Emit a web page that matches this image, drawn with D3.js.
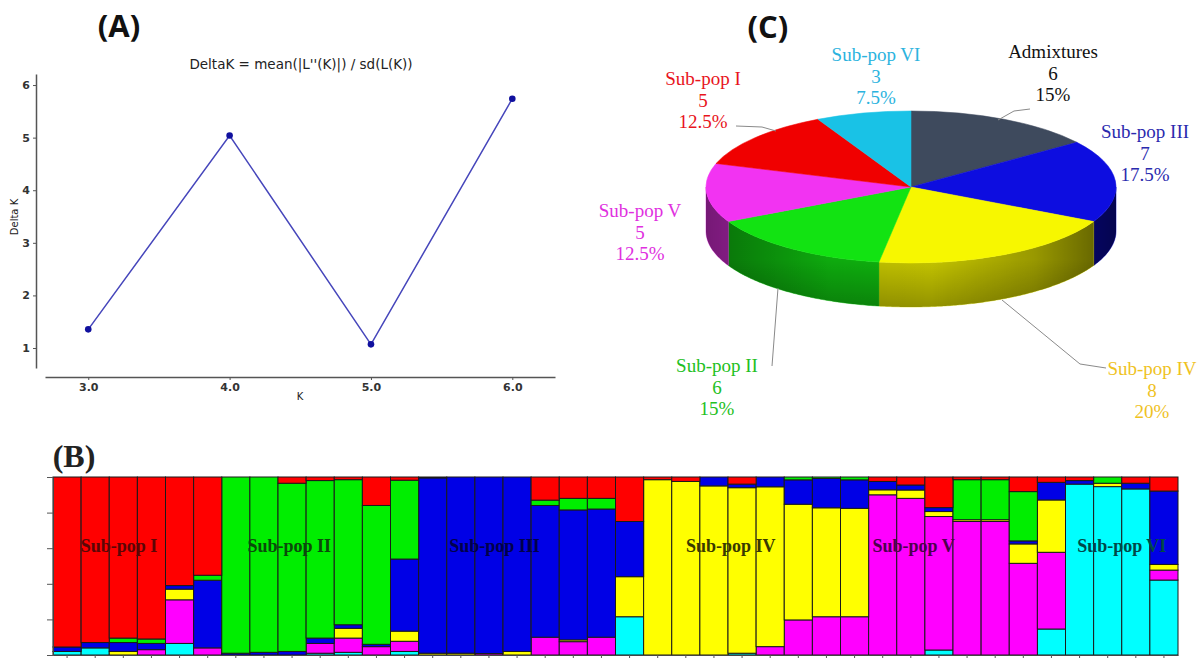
<!DOCTYPE html>
<html>
<head>
<meta charset="utf-8">
<script src="https://cdn.jsdelivr.net/npm/d3@7"></script>
<style>
  body { margin: 0; background: #fff; }
  svg { display: block; }
</style>
</head>
<body>
<svg id="chart" width="1199" height="658"></svg>
<script>
// ---- (A) Evanno delta K ----
const kValues = [3, 4, 5, 6];
const deltaK = [1.355, 5.04, 1.07, 5.74];

// ---- (C) pie: clockwise from 12 o'clock ----
const pieLabels = ["Admixtures", "Sub-pop III", "Sub-pop IV", "Sub-pop II", "Sub-pop V", "Sub-pop I", "Sub-pop VI"];
const pieCounts = [6, 7, 8, 6, 5, 5, 3];
const pieColors = ["#3e4a5d", "#0d0de0", "#f7f700", "#12e312", "#f233f2", "#f00000", "#19c2e6"];
const pieTextColors = ["#111111", "#2a2aae", "#efc21e", "#22c022", "#e030e0", "#e8141c", "#2bb3de"];

// ---- (B) STRUCTURE membership, 40 individuals (bottom -> top order) ----
const clusterKeys = ["cyan", "magenta", "yellow", "blue", "green", "red"];
const clusterColors = ["#00ffff", "#ff00ff", "#ffff00", "#0000e6", "#00ee00", "#ff0000"];
const cyan    = [.02,.04,0,0,.065,0,0,0,0,.01,.015,0,.02,0,0,0,0,0,0,0,.215,0,0,0,.01,0,0,0,0,0,0,.028,0,0,0,.146,.96,.946,.933,.421];
const magenta = [0,0,0,.03,.245,.04,0,0,0,.055,.08,.047,.057,0,0,.008,0,.1,.075,.1,0,0,0,0,0,.047,.197,.215,.215,.9,.88,.75,.75,.75,.515,.431,0,0,0,.056];
const yellow  = [0,0,.02,0,.06,0,0,0,0,0,.055,0,.057,.01,.01,0,.02,0,.01,0,.225,.985,.975,.95,.93,.898,.65,.612,.609,.028,.047,.028,.01,.01,.109,.294,0,.019,0,.032];
const blue    = [.025,.03,.05,.035,.02,.38,.01,.015,.02,.03,.02,.013,.405,.985,.99,.992,.98,.74,.73,.72,.31,0,0,.05,.02,.055,.137,.165,.16,.047,.028,.022,0,0,.017,.099,.02,0,.032,.412];
const green   = [0,0,.025,.025,0,.028,.99,.985,.945,.885,.815,.78,.443,0,0,0,0,.03,.065,.06,0,0,0,0,0,0,.016,.008,.016,0,0,0,.225,.225,.277,0,0,.035,0,0];
const red     = [.955,.93,.905,.91,.61,.552,0,0,.035,.02,.015,.16,.018,.005,0,0,0,.13,.12,.12,.25,.015,.025,0,.04,0,0,0,0,.025,.045,.172,.015,.015,.082,.03,.02,0,.035,.079];
const groupLabels = ["Sub-pop I", "Sub-pop II", "Sub-pop III", "Sub-pop IV", "Sub-pop V", "Sub-pop VI"];
const groupCenters = [2.35, 8.4, 15.7, 24.1, 30.6, 38.0];
const groupTextColors = ["#5a0606", "#0b4a0b", "#00004a", "#3a3a00", "#4e004e", "#004848"];

const svg = d3.select("#chart");

// ================= Panel A =================
svg.append("text").attr("x", 119).attr("y", 37).attr("text-anchor", "middle")
  .style("font-family", "'Open Sans', 'DejaVu Sans', sans-serif").style("font-weight", "bold")
  .style("font-size", "31px").attr("fill", "#111").text("(A)");

const xA = d3.scaleLinear().domain([2.694, 6.302]).range([45, 555]);
const yA = d3.scaleLinear().domain([0.62, 6.21]).range([368, 74]);

svg.append("text").attr("x", 301).attr("y", 69).attr("text-anchor", "middle")
  .style("font-family", "'DejaVu Sans', sans-serif").style("font-size", "13.5px")
  .attr("fill", "#222").text("DeltaK = mean(|L''(K)|) / sd(L(K))");

const axA = svg.append("g").attr("transform", "translate(0,377)")
  .call(d3.axisBottom(xA).tickValues(kValues).tickFormat(d3.format(".1f")).tickSize(3).tickSizeOuter(0).tickPadding(3));
const ayA = svg.append("g").attr("transform", "translate(36,0)")
  .call(d3.axisLeft(yA).tickValues([1, 2, 3, 4, 5, 6]).tickFormat(d3.format("d")).tickSize(3).tickSizeOuter(0).tickPadding(3));
[axA, ayA].forEach(g => {
  g.select(".domain").attr("stroke", "#555").attr("stroke-width", 1.5);
  g.selectAll(".tick line").attr("stroke", "#555");
  g.selectAll(".tick text").style("font-family", "'DejaVu Sans', sans-serif")
    .style("font-size", "11px").style("font-weight", "bold").attr("fill", "#333");
});

svg.append("text").attr("x", 300).attr("y", 400).attr("text-anchor", "middle")
  .style("font-family", "'DejaVu Sans', sans-serif").style("font-size", "10px").attr("fill", "#222").text("K");
svg.append("text").attr("transform", "translate(18,217) rotate(-90)").attr("text-anchor", "middle")
  .style("font-family", "'DejaVu Sans', sans-serif").style("font-size", "10px").attr("fill", "#222").text("Delta K");

const lineA = d3.line().x((d, i) => xA(kValues[i])).y(d => yA(d));
svg.append("path").datum(deltaK).attr("d", lineA)
  .attr("fill", "none").attr("stroke", "#4646bb").attr("stroke-width", 1.5);
svg.selectAll(".dotA").data(deltaK).join("circle").attr("class", "dotA")
  .attr("cx", (d, i) => xA(kValues[i])).attr("cy", d => yA(d)).attr("r", 3.3).attr("fill", "#10109e");

// ================= Panel C =================
svg.append("text").attr("x", 768).attr("y", 38).attr("text-anchor", "middle")
  .style("font-family", "'Open Sans', 'DejaVu Sans', sans-serif").style("font-weight", "bold")
  .style("font-size", "31px").attr("fill", "#111").text("(C)");

const cx = 911, cy = 187, rx = 205, ry = 76, depth = 44;
const total = d3.sum(pieCounts);
const arcs = d3.pie().sort(null).value(d => d)(pieCounts);
const ell = (a, dy) => [cx + rx * Math.sin(a), cy - ry * Math.cos(a) + dy];

const defs = svg.append("defs");
const sideGrad = defs.append("linearGradient").attr("id", "sideShade")
  .attr("gradientUnits", "userSpaceOnUse").attr("x1", cx - rx).attr("x2", cx + rx).attr("y1", 0).attr("y2", 0);
[[0, 0.45], [0.3, 0.15], [0.55, 0.1], [0.8, 0.3], [1, 0.6]].forEach(([o, a]) =>
  sideGrad.append("stop").attr("offset", o).attr("stop-color", "#000").attr("stop-opacity", a));
const sideGradV = defs.append("linearGradient").attr("id", "sideShadeV")
  .attr("gradientUnits", "userSpaceOnUse").attr("x1", 0).attr("x2", 0).attr("y1", cy).attr("y2", cy + ry + depth);
[[0, 0], [0.6, 0.0], [1, 0.25]].forEach(([o, a]) =>
  sideGradV.append("stop").attr("offset", o).attr("stop-color", "#000").attr("stop-opacity", a));

const sideLine = d3.line();
const sides = svg.append("g");
arcs.forEach((a, i) => {
  const a0 = Math.max(a.startAngle, Math.PI / 2), a1 = Math.min(a.endAngle, 3 * Math.PI / 2);
  if (a0 >= a1) return;
  const angles = d3.range(a0, a1, 0.01).concat([a1]);
  const pts = angles.map(t => ell(t, 0)).concat(angles.slice().reverse().map(t => ell(t, depth)));
  const d = sideLine(pts) + "Z";
  sides.append("path").attr("d", d).attr("fill", d3.color(pieColors[i]).darker(0.35)).attr("stroke", d3.color(pieColors[i]).darker(0.35)).attr("stroke-width", 0.5);
  sides.append("path").attr("d", d).attr("fill", "url(#sideShade)");
  sides.append("path").attr("d", d).attr("fill", "url(#sideShadeV)");
});

const topG = svg.append("g").attr("transform", `translate(${cx},${cy}) scale(1,${ry / rx})`);
const arcGen = d3.arc().innerRadius(0).outerRadius(rx);
topG.selectAll("path").data(arcs).join("path").attr("d", arcGen)
  .attr("fill", (d, i) => pieColors[i]).attr("stroke", (d, i) => pieColors[i]).attr("stroke-width", 0.8);

// leader lines
const leaders = [
  [[998, 120], [1014, 111], [1030, 109]],
  [[1002, 300], [1080, 364], [1106, 368]],
  [[778, 288], [772, 366]],
  [[776, 131], [762, 127], [736, 126]]
];
svg.append("g").selectAll("path").data(leaders).join("path")
  .attr("d", d => d3.line()(d)).attr("fill", "none").attr("stroke", "#8a8a8a").attr("stroke-width", 1);

// label positions (centre x, first line baseline y)
const labelPos = [[1053, 58], [1145, 138], [1152, 375], [717, 372], [640, 217], [703, 85], [876, 61]];
const pctFmt = v => (Math.round(v / total * 1000) / 10) + "%";
arcs.forEach((a, i) => {
  const t = svg.append("text").attr("text-anchor", "middle")
    .style("font-family", "'Liberation Serif', 'Times New Roman', serif").style("font-size", "19px")
    .attr("fill", pieTextColors[i]);
  [pieLabels[i], String(pieCounts[i]), pctFmt(pieCounts[i])].forEach((s, j) =>
    t.append("tspan").attr("x", labelPos[i][0]).attr("y", labelPos[i][1] + j * 21.5).text(s));
});

// ================= Panel B =================
svg.append("text").attr("x", 74).attr("y", 467).attr("text-anchor", "middle")
  .style("font-family", "'Liberation Serif', 'Times New Roman', serif").style("font-weight", "bold")
  .style("font-size", "32px").attr("fill", "#222").text("(B)");

const nInd = red.length;
const rows = d3.range(nInd).map(i => {
  const r = { cyan: cyan[i], magenta: magenta[i], yellow: yellow[i], blue: blue[i], green: green[i], red: red[i] };
  const s = d3.sum(clusterKeys, k => r[k]);
  clusterKeys.forEach(k => r[k] = r[k] / s);
  return r;
});
const series = d3.stack().keys(clusterKeys)(rows);

const xB = d3.scaleBand().domain(d3.range(nInd)).range([53, 1178]).padding(0);
const yB = d3.scaleLinear().domain([0, 1]).range([655, 477]);

svg.append("g").selectAll("g").data(series).join("g")
  .attr("fill", (d, i) => clusterColors[i])
  .selectAll("rect").data(d => d.map((v, i) => ({ v, i })).filter(o => o.v[1] - o.v[0] > 0.0005)).join("rect")
  .attr("x", o => xB(o.i)).attr("width", xB.bandwidth())
  .attr("y", o => yB(o.v[1])).attr("height", o => yB(o.v[0]) - yB(o.v[1]))
  .attr("stroke", "#1a1a1a").attr("stroke-width", 1);

const ayB = svg.append("g").attr("transform", "translate(53,0)")
  .call(d3.axisLeft(yB).ticks(5).tickFormat("").tickSize(6).tickSizeOuter(0));
const axB = svg.append("g").attr("transform", "translate(0,655)")
  .call(d3.axisBottom(xB).tickFormat("").tickSize(3).tickSizeOuter(0));
[ayB, axB].forEach(g => {
  g.select(".domain").attr("stroke", "#444");
  g.selectAll(".tick line").attr("stroke", "#555");
});

const xIdx = d3.scaleLinear().domain([0, nInd]).range([53, 1178]);
svg.append("g").selectAll("text").data(groupLabels).join("text")
  .attr("x", (d, i) => xIdx(groupCenters[i])).attr("y", 552).attr("text-anchor", "middle")
  .style("font-family", "'Liberation Serif', 'Times New Roman', serif").style("font-weight", "bold")
  .style("font-size", "18px").attr("fill", (d, i) => groupTextColors[i]).text(d => d);
</script>
</body>
</html>
